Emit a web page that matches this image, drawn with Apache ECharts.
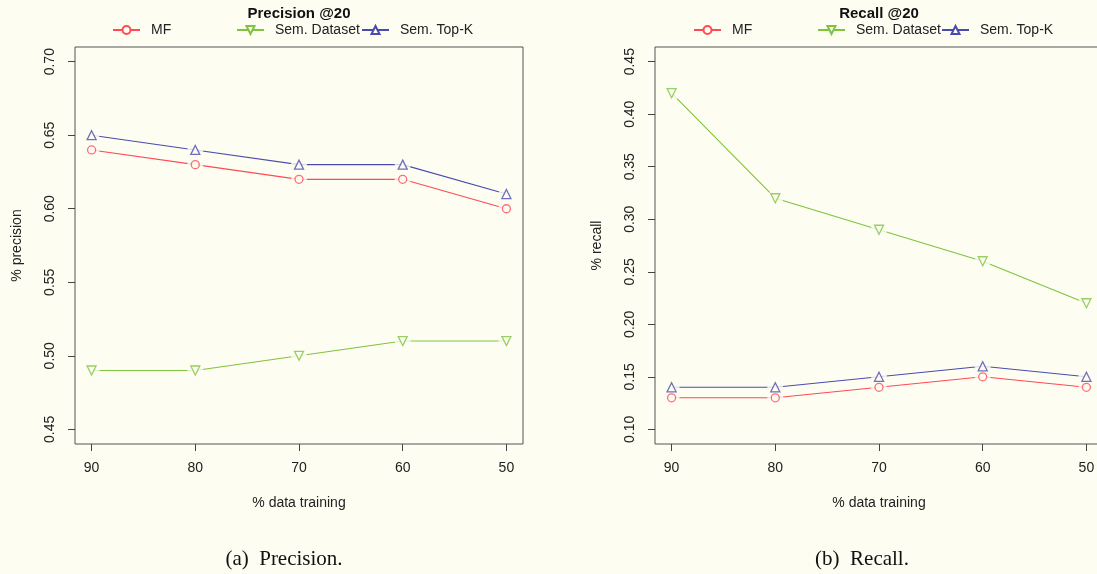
<!DOCTYPE html>
<html><head><meta charset="utf-8">
<script src="https://cdn.jsdelivr.net/npm/echarts@6/dist/echarts.min.js"></script>
<style>html,body{margin:0;padding:0;background:#fdfdf2;overflow:hidden}#c{width:1115px;height:574px}</style>
</head><body><div id="c"></div>
<script>
const trainingPct = [90, 80, 70, 60, 50];
const precisionMF = [0.64, 0.63, 0.62, 0.62, 0.60];
const precisionSemDataset = [0.49, 0.49, 0.50, 0.51, 0.51];
const precisionSemTopK = [0.65, 0.64, 0.63, 0.63, 0.61];
const recallMF = [0.13, 0.13, 0.14, 0.15, 0.14];
const recallSemDataset = [0.42, 0.32, 0.29, 0.26, 0.22];
const recallSemTopK = [0.14, 0.14, 0.15, 0.16, 0.15];
const xTickValues = [50, 60, 70, 80, 90];
const precisionTicks = [0.45, 0.50, 0.55, 0.60, 0.65, 0.70];
const recallTicks = [0.10, 0.15, 0.20, 0.25, 0.30, 0.35, 0.40, 0.45];
const seriesNames = ['MF', 'Sem. Dataset', 'Sem. Top-K'];
const panelTitles = ['Precision @20', 'Recall @20'];
const yTitles = ['% precision', '% recall'];
const xTitle = '% data training';
const captions = ['(a)  Precision.', '(b)  Recall.'];

const BG = '#fdfdf2';
const COLORS = ['#ff4a55', '#80c33f', '#4b4bae'];
const SYMBOLS = [['circle', 0, 8], ['triangle', 180, 9], ['triangle', 0, 9]];
const FONT = '"Liberation Sans", Arial, sans-serif';

const chart = echarts.init(document.getElementById('c'), null, {renderer: 'canvas'});

function pairs(vals) { return trainingPct.map((x, i) => [x, vals[i]]); }

function makeSeries(gi, si, vals) {
  const [sym, rot, size] = SYMBOLS[si];
  const c = COLORS[si];
  return [
    {
      type: 'line', name: seriesNames[si], xAxisIndex: gi, yAxisIndex: gi,
      data: pairs(vals), symbol: sym, symbolRotate: rot, symbolSize: size,
      showSymbol: false, lineStyle: {color: c, width: 1.1},
      itemStyle: {color: BG, borderColor: c, borderWidth: 1.3},
      z: 2, silent: true
    },
    {
      type: 'scatter', name: 'gap' + gi + si, xAxisIndex: gi, yAxisIndex: gi,
      data: pairs(vals), symbol: 'circle', symbolSize: 16,
      itemStyle: {color: BG}, z: 3, silent: true
    },
    {
      type: 'scatter', name: 'mk' + gi + si, xAxisIndex: gi, yAxisIndex: gi,
      data: pairs(vals), symbol: sym, symbolRotate: rot, symbolSize: size,
      itemStyle: {color: BG, borderColor: c, borderWidth: 1.3}, z: 4, silent: true
    }
  ];
}

const gridLefts = [75, 655];
const legendLefts = [[112, 236, 361], [693, 817, 941]];
const yRanges = [[0.44, 0.71, precisionTicks], [0.086, 0.464, recallTicks]];
const titleX = [299, 879];
const captionX = [284, 862];

const grids = gridLefts.map(l => ({
  left: l, top: 47, width: 448, height: 397, show: true,
  borderColor: '#555', borderWidth: 1, backgroundColor: 'transparent', containLabel: false
}));

const xAxes = [0, 1].map(gi => ({
  type: 'value', gridIndex: gi, min: 48.4, max: 91.6, inverse: true,
  axisLine: {show: false},
  axisTick: {show: true, length: 7, customValues: xTickValues, lineStyle: {color: '#444'}},
  axisLabel: {customValues: xTickValues, margin: 17, fontSize: 14, fontFamily: FONT, color: '#222'},
  splitLine: {show: false},
  name: xTitle, nameLocation: 'middle', nameGap: 52,
  nameTextStyle: {fontSize: 14, fontFamily: FONT, color: '#222'}
}));

const yAxes = [0, 1].map(gi => ({
  type: 'value', gridIndex: gi, min: yRanges[gi][0], max: yRanges[gi][1],
  axisLine: {show: false},
  axisTick: {show: true, length: 7, customValues: yRanges[gi][2], lineStyle: {color: '#444'}},
  axisLabel: {customValues: yRanges[gi][2], rotate: 90, margin: 18, fontSize: 14, fontFamily: FONT, color: '#222',
    formatter: v => v.toFixed(2)},
  splitLine: {show: false},
  name: yTitles[gi], nameLocation: 'middle', nameGap: 51, nameRotate: 90,
  nameTextStyle: {fontSize: 14, fontFamily: FONT, color: '#222'}
}));

const series = [];
const allVals = [[precisionMF, precisionSemDataset, precisionSemTopK], [recallMF, recallSemDataset, recallSemTopK]];
[0, 1].forEach(gi => [0, 1, 2].forEach(si => series.push(...makeSeries(gi, si, allVals[gi][si]))));

const legends = [];
[0, 1].forEach(gi => [0, 1, 2].forEach(si => legends.push({
  data: [seriesNames[si]], left: legendLefts[gi][si], top: 23, itemWidth: 27, itemHeight: 10,
  selectedMode: false, padding: 0,
  textStyle: {fontSize: 14, fontFamily: FONT, color: '#222', padding: [0, 0, 0, 6]}
})));

const graphics = [];
[0, 1].forEach(gi => {
  graphics.push({type: 'text', x: titleX[gi], y: 14, style: {text: panelTitles[gi], font: 'bold 15px ' + FONT,
    fill: '#111', textAlign: 'center', textVerticalAlign: 'middle'}});
  graphics.push({type: 'text', x: captionX[gi], y: 559, style: {text: captions[gi], font: '21px "Liberation Serif", serif',
    fill: '#111', textAlign: 'center', textVerticalAlign: 'middle'}});
});

chart.setOption({
  backgroundColor: BG,
  animation: false,
  grid: grids, xAxis: xAxes, yAxis: yAxes, series, legend: legends, graphic: graphics
});
</script></body></html>
